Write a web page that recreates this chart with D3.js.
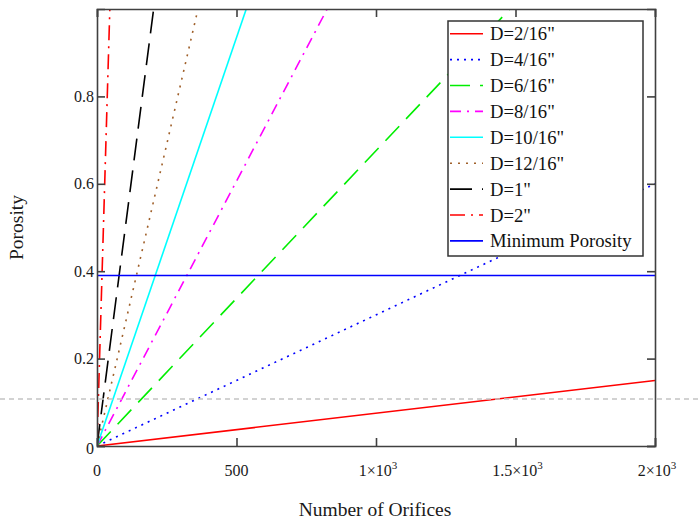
<!DOCTYPE html>
<html>
<head>
<meta charset="utf-8">
<script src="https://cdn.jsdelivr.net/npm/d3@7"></script>
<style>
body{margin:0;background:#fff;}
</style>
</head>
<body>
<svg id="chart" width="698" height="523"></svg>
<script>
// ---------- data ----------
const seriesNames=['D=2/16"','D=4/16"','D=6/16"','D=8/16"','D=10/16"','D=12/16"','D=1"','D=2"','Minimum Porosity'];
const seriesX=[[0,2000],[0,2000],[0,1480],[0,825],[0,535],[0,362],[0,203],[0,46],[0,2000]];
const seriesY=[[0,0.15],[0,0.6],[0,1],[0,1],[0,1],[0,1],[0,1],[0,1],[0.39,0.39]];
const seriesColors=["#ff0000","#0000ff","#00ee00","#ff00ff","#00ffff","#a0602a","#000000","#ff0000","#0000ff"];
const seriesDash=[null,"2,5","20,10","11,6,2,6",null,"2,6","22,10","15,6,2,6",null];
const xTicks=[0,500,1000,1500,2000];
const xTickLabels=[["0",""],["500",""],["1×10","3"],["1.5×10","3"],["2×10","3"]];
const yTicks=[0,0.2,0.4,0.6,0.8];
const yTickLabels=["0","0.2","0.4","0.6","0.8"];
const markerY=0.1075;

// ---------- layout ----------
const FONT="'Liberation Serif', Tinos, 'Times New Roman', 'DejaVu Serif', serif";
const svg=d3.select("#chart").attr("font-family",FONT);
const W=698,H=523;
const plotL=97,plotR=655,plotT=9,plotB=446;
const x=d3.scaleLinear().domain([0,2000]).range([plotL,plotR]);
const y=d3.scaleLinear().domain([0,1]).range([plotB,plotT]);

svg.append("defs").append("clipPath").attr("id","plotclip")
    .append("rect").attr("x",plotL).attr("y",plotT)
    .attr("width",plotR-plotL).attr("height",plotB-plotT);

// ---------- lines ----------
const lineGen=d3.line().x(d=>x(d[0])).y(d=>y(d[1]));
const plot=svg.append("g").attr("clip-path","url(#plotclip)");
seriesNames.forEach((name,i)=>{
    const pts=seriesX[i].map((v,j)=>[v,seriesY[i][j]]);
    plot.append("path")
        .attr("d",lineGen(pts))
        .attr("fill","none")
        .attr("stroke",seriesColors[i])
        .attr("stroke-width",1.6)
        .attr("stroke-dasharray",seriesDash[i]);
});

// ---------- axes (inward ticks, all four sides) ----------
const axisColor="#404040";
const tickLen=8;
const ax=svg.append("g");
ax.append("g").attr("transform",`translate(0,${plotB})`)
    .call(d3.axisBottom(x).tickValues(xTicks).tickSize(-tickLen).tickFormat(""));
ax.append("g").attr("transform",`translate(0,${plotT})`)
    .call(d3.axisTop(x).tickValues(xTicks).tickSize(-tickLen).tickFormat(""));
ax.append("g").attr("transform",`translate(${plotL},0)`)
    .call(d3.axisLeft(y).tickValues(yTicks).tickSize(-tickLen).tickFormat(""));
ax.append("g").attr("transform",`translate(${plotR},0)`)
    .call(d3.axisRight(y).tickValues(yTicks).tickSize(-tickLen).tickFormat(""));
ax.selectAll("path.domain").attr("stroke",axisColor).attr("stroke-width",1.6);
ax.selectAll(".tick line").attr("stroke",axisColor).attr("stroke-width",1.6);

// tick labels
const tl=svg.append("g").attr("font-size",16).attr("fill","#1a1a1a");
xTicks.forEach((v,i)=>{
    const t=tl.append("text")
        .attr("font-family",FONT)
        .attr("x",x(v)+(xTickLabels[i][1]?2:0))
        .attr("y",476)
        .attr("text-anchor","middle");
    t.append("tspan").text(xTickLabels[i][0]);
    if(xTickLabels[i][1])
        t.append("tspan").attr("dy",-7).attr("font-size",11).text(xTickLabels[i][1]);
});
yTicks.forEach((v,i)=>{
    tl.append("text")
        .attr("font-family",FONT)
        .attr("x",plotL-3)
        .attr("y",y(v)+(v===0?2:0))
        .attr("dy","0.35em")
        .attr("text-anchor","end")
        .text(yTickLabels[i]);
});

// axis titles
svg.append("text")
    .attr("font-family",FONT)
    .attr("transform",`translate(23,${(plotT+plotB)/2}) rotate(-90)`)
    .attr("text-anchor","middle")
    .attr("font-size",19.5)
    .attr("fill","#1a1a1a")
    .text("Porosity");
svg.append("text")
    .attr("font-family",FONT)
    .attr("x",(plotL+plotR)/2-1)
    .attr("y",516)
    .attr("text-anchor","middle")
    .attr("font-size",19.5)
    .attr("fill","#1a1a1a")
    .text("Number of Orifices");

// ---------- legend ----------
const lg=svg.append("g");
lg.append("rect")
    .attr("x",448).attr("y",21)
    .attr("width",195).attr("height",235)
    .attr("fill","#fff")
    .attr("stroke","#333")
    .attr("stroke-width",1.5);
seriesNames.forEach((name,i)=>{
    const cy=33.7+i*25.9;
    lg.append("line")
        .attr("x1",450).attr("x2",483)
        .attr("y1",cy).attr("y2",cy)
        .attr("stroke",seriesColors[i])
        .attr("stroke-width",1.6)
        .attr("stroke-dasharray",seriesDash[i]);
    lg.append("text")
        .attr("font-family",FONT)
        .attr("x",490)
        .attr("y",cy)
        .attr("dy","0.35em")
        .attr("font-size",18.67)
        .attr("fill","#111")
        .text(name);
});

// ---------- grey marker line ----------
svg.append("line")
    .attr("x1",0).attr("x2",W)
    .attr("y1",y(markerY)).attr("y2",y(markerY))
    .attr("stroke","#c4c4c4")
    .attr("stroke-width",1.5)
    .attr("stroke-dasharray","5,4");
</script>
</body>
</html>
